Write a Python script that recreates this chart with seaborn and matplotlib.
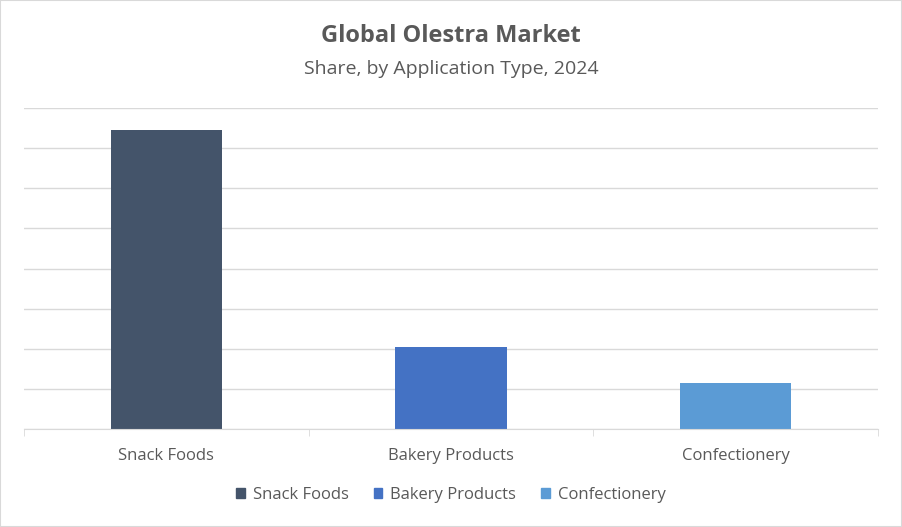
import matplotlib
matplotlib.use("Agg")
import matplotlib.pyplot as plt
import seaborn as sns
import pandas as pd
from matplotlib.patches import Patch

categories = ["Snack Foods", "Bakery Products", "Confectionery"]
shares = [74.6, 20.4, 11.5]
colors = ["#44546A", "#4472C4", "#5B9BD5"]

plt.rcParams["font.family"] = "Open Sans"
df = pd.DataFrame({"Application": categories, "Share": shares})

fig = plt.figure(figsize=(9.02, 5.27), dpi=100)
ax = fig.add_axes([24 / 902, 1 - 429 / 527, 854 / 902, 321 / 527])

sns.barplot(data=df, x="Application", y="Share", hue="Application",
            palette=colors, width=0.39, saturation=1, legend=False, ax=ax)

ax.set_ylim(0, 80)
ax.set_xlim(-0.5, 2.5)
ax.set_yticks(range(0, 81, 10))
ax.yaxis.grid(True, color="#D9D9D9", linewidth=1)
ax.set_axisbelow(True)
ax.tick_params(axis="y", left=False, labelleft=False)
ax.set_xticks([-0.5, 0.5, 1.5, 2.5], minor=True)
ax.tick_params(axis="x", which="minor", length=5, color="#D9D9D9")
ax.tick_params(axis="x", which="major", length=0, labelsize=12,
               labelcolor="#595959", pad=14)
for s in ["top", "right", "left"]:
    ax.spines[s].set_visible(False)
ax.spines["bottom"].set_color("#D9D9D9")
ax.set_xlabel("")
ax.set_ylabel("")

fig.text(0.5, 1 - 36 / 527, "Global Olestra Market", ha="center", va="center",
         fontsize=17, fontweight="bold", color="#595959")
fig.text(0.5, 1 - 69 / 527, "Share, by Application Type, 2024", ha="center",
         va="center", fontsize=14, color="#595959")

handles = [Patch(color=c, label=l) for c, l in zip(colors, categories)]
fig.legend(handles=handles, loc="center", bbox_to_anchor=(0.5, 1 - 495 / 527),
           ncol=3, frameon=False, fontsize=12, labelcolor="#595959",
           handlelength=0.5, handleheight=0.5, handletextpad=0.5, columnspacing=1.5)

fig.patches.append(plt.Rectangle((0, 0), 1, 1, transform=fig.transFigure,
                                 fill=False, edgecolor="#D9D9D9", linewidth=1.5))
fig.savefig("out.png", dpi=100)
